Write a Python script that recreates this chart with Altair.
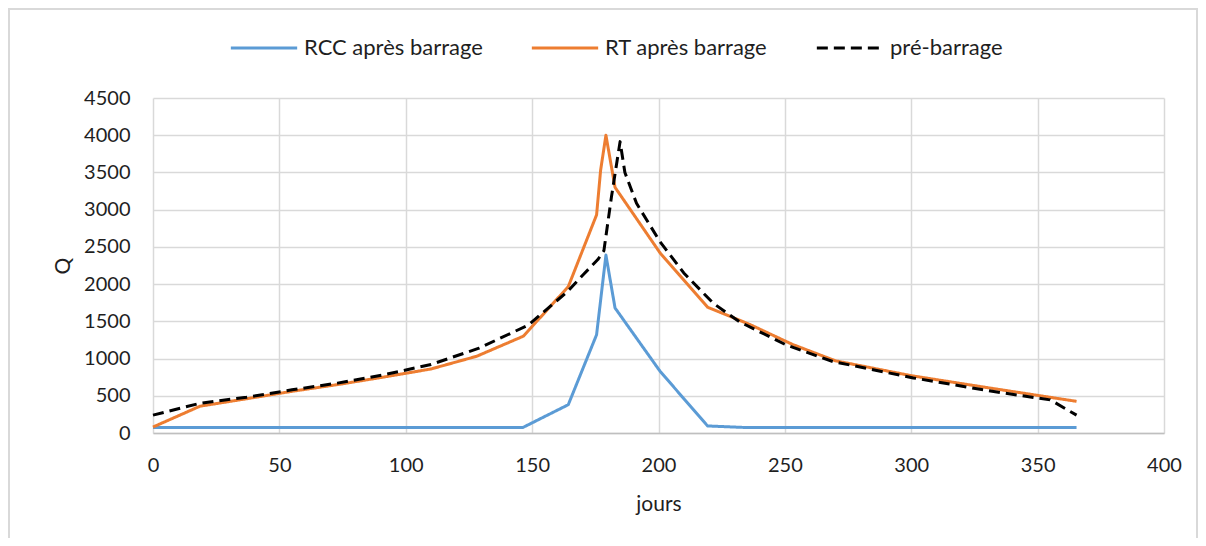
import altair as alt
import pandas as pd

# --- data ---
rcc_days = [0, 146.4, 164.3, 175.5, 179.2, 182.8, 200.6, 219.4, 233.6, 365.4]
rcc_vals = [75, 75, 380, 1320, 2390, 1680, 830, 95, 75, 75]

rt_days = [0, 18.6, 37, 55, 73, 91, 110, 128, 146.5, 164.3, 175.5, 177.1, 179.2,
           182.8, 200.6, 219.4, 236, 253, 270, 300, 330, 365.4]
rt_vals = [80, 360, 460, 560, 650, 750, 860, 1030, 1300, 1966, 2930, 3530, 4000,
           3300, 2420, 1690, 1460, 1190, 970, 770, 610, 425]

pre_days = [0, 18.6, 37, 55, 73, 91, 110, 129, 148.5, 164, 170, 176, 178.4, 181.4,
            184.8, 186.7, 191.3, 200.6, 210, 221.7, 232, 250.7, 269, 300.8, 332, 355, 365.4]
pre_vals = [240, 400, 480, 580, 670, 780, 920, 1140, 1450, 1900, 2120, 2330, 2450, 3175,
            3914, 3500, 3085, 2570, 2150, 1742, 1495, 1180, 960, 740, 560, 445, 240]

series_names = ["RCC après barrage", "RT après barrage", "pré-barrage"]
series_colors = ["#5B9BD5", "#ED7D31", "#000000"]
series_dash = [[1, 0], [1, 0], [11, 6]]
series_width = [3, 3, 3.8]
x_ticks = [0, 50, 100, 150, 200, 250, 300, 350, 400]
y_ticks = [0, 500, 1000, 1500, 2000, 2500, 3000, 3500, 4000, 4500]

rows = []
for name, ds, vs in zip(series_names, [rcc_days, rt_days, pre_days], [rcc_vals, rt_vals, pre_vals]):
    for d, v in zip(ds, vs):
        rows.append({"serie": name, "jours": d, "Q": v})
df = pd.DataFrame(rows)

FONT = "Lato"

leg = dict(title=None, orient="none", direction="horizontal", legendX=76, legendY=-85,
           labelLimit=0)

lines = alt.Chart(df).mark_line(strokeJoin="round").encode(
    x=alt.X("jours:Q",
            scale=alt.Scale(domain=[0, 400], nice=False),
            axis=alt.Axis(values=x_ticks, title="jours", grid=True, ticks=False, format="d",
                          domainColor="#BFBFBF", domainWidth=1.5, labelFlush=False,
                          labelPadding=22, titlePadding=18)),
    y=alt.Y("Q:Q",
            scale=alt.Scale(domain=[0, 4500], nice=False),
            axis=alt.Axis(values=y_ticks, title="Q", grid=True, ticks=False, domain=False,
                          format="d", labelFlush=False,
                          labelPadding=23, titlePadding=10)),
    color=alt.Color("serie:N",
                    scale=alt.Scale(domain=series_names, range=series_colors),
                    legend=alt.Legend(**leg)),
    strokeDash=alt.StrokeDash("serie:N",
                              scale=alt.Scale(domain=series_names, range=series_dash),
                              legend=alt.Legend(**leg)),
    strokeWidth=alt.StrokeWidth("serie:N",
                                scale=alt.Scale(domain=series_names, range=series_width),
                                legend=alt.Legend(**leg)),
    order=alt.Order("jours:Q"),
)

frame = alt.Chart(pd.DataFrame({"a": [0]})).mark_rect(
    fill=None, stroke="#D9D9D9", strokeWidth=2
).encode(
    x=alt.value(-144), x2=alt.value(1044),
    y=alt.value(-89), y2=alt.value(460),
)

chart = alt.layer(frame, lines).properties(
    width=1011, height=335,
    autosize=alt.AutoSizeParams(type="none"),
    padding={"left": 145, "top": 90, "right": 34, "bottom": 105},
).configure_axis(
    labelFont=FONT, titleFont=FONT, labelFontSize=20, titleFontSize=21,
    labelColor="#1F1F1F", titleColor="#1F1F1F", titleFontWeight="normal",
    gridColor="#D9D9D9", gridWidth=1.5,
).configure_legend(
    labelFont=FONT, labelFontSize=22, labelColor="#1F1F1F",
    symbolType="stroke", symbolSize=4400,
    columnPadding=42, labelOffset=5,
).configure_view(stroke=None)

chart.save("out.html", embed_options={"renderer": "svg", "actions": False})
